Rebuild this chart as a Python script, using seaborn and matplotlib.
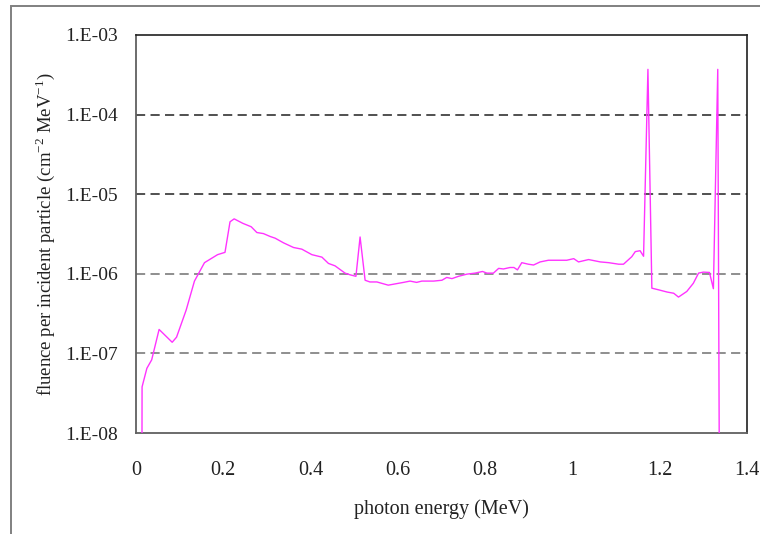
import matplotlib
matplotlib.use("Agg")
import matplotlib.pyplot as plt
import seaborn as sns
import numpy as np

# photon energy (MeV) and fluence per incident particle
energy = [0.0135, 0.014, 0.025, 0.036, 0.053, 0.083, 0.093, 0.115, 0.134, 0.157,
          0.187, 0.204, 0.2155, 0.225, 0.245, 0.264, 0.277, 0.292, 0.307, 0.319,
          0.338, 0.361, 0.380, 0.403, 0.426, 0.441, 0.456, 0.479, 0.491, 0.504,
          0.5135, 0.525, 0.536, 0.552, 0.578, 0.590, 0.613, 0.628, 0.643, 0.655,
          0.682, 0.701, 0.712, 0.724, 0.739, 0.758, 0.777, 0.794, 0.804, 0.819,
          0.831, 0.842, 0.857, 0.866, 0.874, 0.884, 0.899, 0.911, 0.926, 0.945,
          0.968, 0.987, 1.003, 1.014, 1.037, 1.064, 1.083, 1.106, 1.117, 1.136,
          1.144, 1.155, 1.163, 1.173, 1.182, 1.197, 1.217, 1.232, 1.243, 1.262,
          1.277, 1.289, 1.300, 1.314, 1.323, 1.333, 1.337]
fluence = [1e-9, 3.8e-8, 6.5e-8, 8.3e-8, 2.0e-7, 1.38e-7, 1.6e-7, 3.5e-7, 8.1e-7, 1.38e-6,
           1.74e-6, 1.86e-6, 4.5e-6, 4.9e-6, 4.3e-6, 3.9e-6, 3.3e-6, 3.2e-6, 2.95e-6, 2.8e-6,
           2.45e-6, 2.14e-6, 2.04e-6, 1.74e-6, 1.62e-6, 1.35e-6, 1.26e-6, 1.02e-6, 9.7e-7, 9.3e-7,
           2.9e-6, 8.3e-7, 7.9e-7, 7.9e-7, 7.2e-7, 7.4e-7, 7.8e-7, 8.1e-7, 7.8e-7, 8.1e-7,
           8.1e-7, 8.3e-7, 9.0e-7, 8.7e-7, 9.3e-7, 9.9e-7, 1.02e-6, 1.07e-6, 1.02e-6, 1.02e-6,
           1.17e-6, 1.15e-6, 1.2e-6, 1.2e-6, 1.12e-6, 1.38e-6, 1.32e-6, 1.29e-6, 1.41e-6, 1.48e-6,
           1.48e-6, 1.48e-6, 1.55e-6, 1.41e-6, 1.51e-6, 1.41e-6, 1.38e-6, 1.32e-6, 1.32e-6, 1.64e-6,
           1.9e-6, 1.95e-6, 1.66e-6, 3.7e-4, 6.6e-7, 6.3e-7, 5.9e-7, 5.7e-7, 5.1e-7, 6.0e-7,
           7.6e-7, 1.02e-6, 1.05e-6, 1.04e-6, 6.5e-7, 3.7e-4, 1e-9]

yticks = [1e-8, 1e-7, 1e-6, 1e-5, 1e-4, 1e-3]
ytick_labels = ["1.E-08", "1.E-07", "1.E-06", "1.E-05", "1.E-04", "1.E-03"]
xticks = [0, 0.2, 0.4, 0.6, 0.8, 1.0, 1.2, 1.4]
xtick_labels = ["0", "0.2", "0.4", "0.6", "0.8", "1", "1.2", "1.4"]
grid_levels = [1e-7, 1e-6, 1e-5, 1e-4]

sns.set_style("white")
plt.rcParams['font.family'] = ['Liberation Serif', 'DejaVu Serif']
plt.rcParams['mathtext.fontset'] = 'custom'
plt.rcParams['mathtext.rm'] = 'Liberation Serif'

fig = plt.figure(figsize=(7.6, 5.34), dpi=100)
ax = fig.add_axes([0.1789, 0.1891, 0.804, 0.7454])

# dashed horizontal guides, darker at the top
grid_cols = ['#707070', '#707070', '#202020', '#202020']
for lev, c in zip(grid_levels, grid_cols):
    ax.axhline(lev, color=c, lw=1.1, ls=(0, (6, 3.5)), zorder=1)

sns.lineplot(x=energy, y=fluence, ax=ax, color='#ff33ff', lw=1.0,
             sort=False, estimator=None, zorder=3)

ax.set_yscale('log')
ax.set_ylim(1e-8, 1e-3)
ax.set_xlim(0, 1.4)
ax.set_yticks(yticks, ytick_labels)
ax.yaxis.set_minor_locator(matplotlib.ticker.NullLocator())
ax.set_xticks(xticks, xtick_labels)

ax.tick_params(axis='x', direction='in', length=7, width=1.2, color='#555555',
               pad=20, labelsize=14.5, labelcolor='#222222')
ax.tick_params(axis='y', length=0, pad=13, labelsize=14, labelcolor='#222222')

for side in ['left', 'bottom']:
    ax.spines[side].set_color('#606060')
    ax.spines[side].set_linewidth(1.3)
for side in ['top', 'right']:
    ax.spines[side].set_color('#202020')
    ax.spines[side].set_linewidth(1.2)

ax.set_xlabel('photon energy (MeV)', fontsize=14.5, color='#222222', labelpad=14)
ax.set_ylabel(r'fluence per incident particle (cm$^{-2}$ MeV$^{-1}$)', fontsize=13.5,
              color='#222222', labelpad=6)

# outer frame, partly cut off at the right and bottom
frame = plt.Rectangle((11 / 760, -0.1), 1.2, 1.1 - 6 / 534, transform=fig.transFigure,
                      fill=False, edgecolor='#808080', lw=1.4, clip_on=False)
fig.add_artist(frame)

fig.savefig('out.png', dpi=100)
